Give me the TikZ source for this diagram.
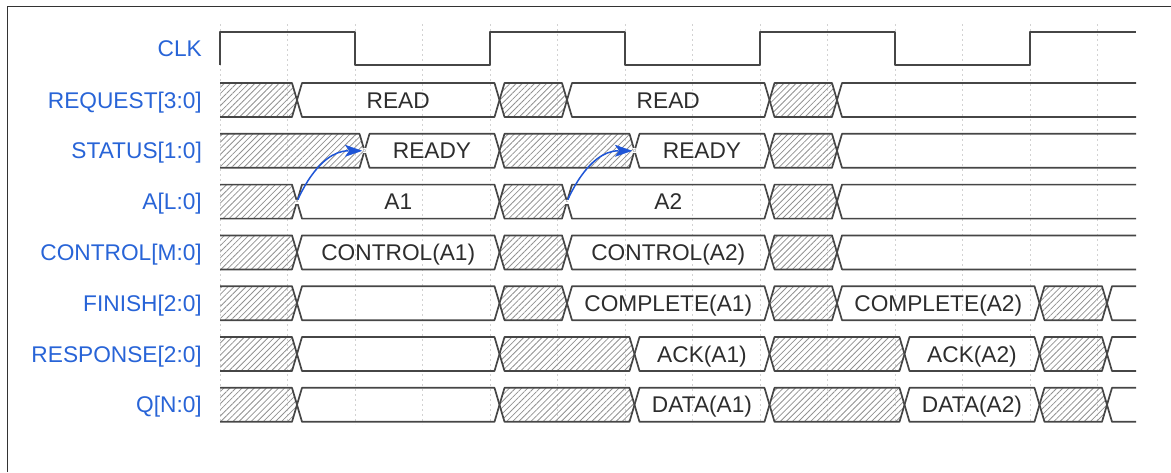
\documentclass[tikz,border=0pt]{standalone}
\usepackage{fontspec}
\setmainfont{Liberation Sans}
\usetikzlibrary{patterns.meta,arrows.meta,calc}
\pgfdeclarelayer{front}
\pgfsetlayers{main,front}
\definecolor{signame}{RGB}{40,100,215}
\definecolor{wavecol}{RGB}{70,70,70}
\definecolor{valcol}{RGB}{45,45,45}
\definecolor{edgecol}{RGB}{30,85,215}
\definecolor{hatchcol}{RGB}{145,145,145}
\tikzset{
  signame/.style={anchor=base east, text=signame, inner sep=0pt, font=\fontsize{22.7}{26}\selectfont},
  busval/.style={anchor=base, text=valcol, inner sep=0pt, font=\fontsize{22.7}{26}\selectfont},
  wireline/.style={draw=wavecol, line width=1.7pt, line join=round},
  hatchfill/.style={pattern={Lines[angle=45,distance=4.3pt,line width=0.8pt]}, pattern color=hatchcol},
  gridline/.style={draw=gray!35, line width=0.9pt, dash pattern=on 2pt off 3pt},
  nodetag/.style={font=\fontsize{5}{5}\selectfont, text=gray, fill=white, inner sep=0.6pt},
  edgearrow/.style={draw=edgecol, line width=1.5pt},
  edgetip/.style={fill=edgecol, draw=edgecol, line width=0.5pt, line join=miter},
  frameline/.style={draw=black!80, line width=1pt},
}
% x position of a bus transition, in quarter clock periods
\newcommand\wvx[1]{229.5+67.5*(#1)}
% one bus value: row centre, start, end, extra style
\newcommand\wvseg[4]{%
  \draw[wireline,#4] ({\wvx{#2}},#1) -- ({\wvx{#2}+5},{#1-17}) -- ({\wvx{#3}-5},{#1-17})
    -- ({\wvx{#3}},#1) -- ({\wvx{#3}-5},{#1+17}) -- ({\wvx{#2}+5},{#1+17}) -- cycle;}
\newcommand\hseg[3]{\wvseg{#1}{#2}{#3}{hatchfill}}
\newcommand\eseg[3]{\wvseg{#1}{#2}{#3}{}}
\newcommand\vseg[5]{\wvseg{#1}{#2}{#3}{}%
  \node[busval] (#4) at ({\wvx{(#2+#3)/2}},{#1+8.1}) {#5};}
% curved edge between two markers, ending in a filled tip
\newcommand\causeedge[2]{%
  \draw[edgearrow] (#1.center) .. controls (#1.center) and ($(#2.center)+(-47.25,0)$) .. ($(#2.center)+(-16,0)$);
  \fill[edgetip] ($(#2.center)+(-3,0)$) -- ($(#2.center)+(-19,-5.5)$) -- ($(#2.center)+(-15,0)$)
    -- ($(#2.center)+(-19,5.5)$) -- cycle;}
\begin{document}
\begin{tikzpicture}[x=1pt,y=-1pt]
\useasboundingbox (0,0) rectangle (1171,472);
\draw[frameline] (7,472) -- (7,6) -- (1171,6);

% time grid
\foreach \k in {0,...,13}
  \draw[gridline] ({220+67.5*\k},24) -- ({220+67.5*\k},424);

% signal names
\node[signame] (nclk)  at (202,56.6)  {CLK};
\node[signame] (nreq)  at (202,108.1) {REQUEST[3:0]};
\node[signame] (nstat) at (202,158.9) {STATUS[1:0]};
\node[signame] (naddr) at (202,209.7) {A[L:0]};
\node[signame] (nctrl) at (202,260.5) {CONTROL[M:0]};
\node[signame] (nfin)  at (202,311.3) {FINISH[2:0]};
\node[signame] (nresp) at (202,362.1) {RESPONSE[2:0]};
\node[signame] (nq)    at (202,412.9) {Q[N:0]};

% clock
\draw[wireline] (220,65) -- (220,32) -- (355,32) -- (355,65) -- (490,65) -- (490,32)
  -- (625,32) -- (625,65) -- (760,65) -- (760,32) -- (895,32) -- (895,65)
  -- (1030,65) -- (1030,32) -- (1136,32);

\begin{scope}
\clip (220,0) rectangle (1136,472);
% REQUEST
\hseg{100}{-0.4}{1}
\vseg{100}{1}{4}{req1}{READ}
\hseg{100}{4}{5}
\vseg{100}{5}{8}{req2}{READ}
\hseg{100}{8}{9}
\eseg{100}{9}{14}
% STATUS
\hseg{150.8}{-0.4}{2}
\vseg{150.8}{2}{4}{stat1}{READY}
\hseg{150.8}{4}{6}
\vseg{150.8}{6}{8}{stat2}{READY}
\hseg{150.8}{8}{9}
\eseg{150.8}{9}{14}
% A
\hseg{201.6}{-0.4}{1}
\vseg{201.6}{1}{4}{addr1}{A1}
\hseg{201.6}{4}{5}
\vseg{201.6}{5}{8}{addr2}{A2}
\hseg{201.6}{8}{9}
\eseg{201.6}{9}{14}
% CONTROL
\hseg{252.4}{-0.4}{1}
\vseg{252.4}{1}{4}{ctrl1}{CONTROL(A1)}
\hseg{252.4}{4}{5}
\vseg{252.4}{5}{8}{ctrl2}{CONTROL(A2)}
\hseg{252.4}{8}{9}
\eseg{252.4}{9}{14}
% FINISH
\hseg{303.2}{-0.4}{1}
\eseg{303.2}{1}{4}
\hseg{303.2}{4}{5}
\vseg{303.2}{5}{8}{fin1}{COMPLETE(A1)}
\hseg{303.2}{8}{9}
\vseg{303.2}{9}{12}{fin2}{COMPLETE(A2)}
\hseg{303.2}{12}{13}
\eseg{303.2}{13}{14}
% RESPONSE
\hseg{354}{-0.4}{1}
\eseg{354}{1}{4}
\hseg{354}{4}{6}
\vseg{354}{6}{8}{resp1}{ACK(A1)}
\hseg{354}{8}{10}
\vseg{354}{10}{12}{resp2}{ACK(A2)}
\hseg{354}{12}{13}
\eseg{354}{13}{14}
% Q
\hseg{404.8}{-0.4}{1}
\eseg{404.8}{1}{4}
\hseg{404.8}{4}{6}
\vseg{404.8}{6}{8}{q1}{DATA(A1)}
\hseg{404.8}{8}{10}
\vseg{404.8}{10}{12}{q2}{DATA(A2)}
\hseg{404.8}{12}{13}
\eseg{404.8}{13}{14}
\end{scope}

% edge markers
\begin{pgfonlayer}{front}
\node[nodetag] (a) at ({\wvx{1}},201.6) {a};
\node[nodetag] (b) at ({\wvx{2}},150.8) {b};
\node[nodetag] (c) at ({\wvx{5}},201.6) {c};
\node[nodetag] (d) at ({\wvx{6}},150.8) {d};
\end{pgfonlayer}

% causality edges
\causeedge{a}{b}
\causeedge{c}{d}
\end{tikzpicture}
\end{document}
